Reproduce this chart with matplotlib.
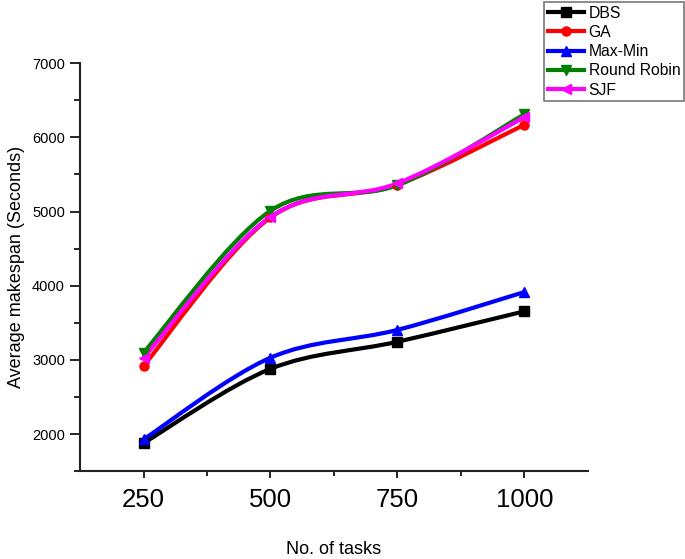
import numpy as np
import matplotlib.pyplot as plt
from matplotlib.path import Path
from matplotlib.patches import PathPatch
from matplotlib.lines import Line2D

plt.rcParams['font.family'] = ['Liberation Sans', 'DejaVu Sans']

# data
tasks = [250, 500, 750, 1000]
dbs = [1880, 2880, 3245, 3655]
ga = [2920, 4920, 5360, 6170]
maxmin = [1930, 3030, 3405, 3915]
round_robin = [3100, 5010, 5355, 6310]
sjf = [3030, 4930, 5380, 6270]

series = [
    ("DBS", dbs, "black", "s"),
    ("GA", ga, "red", "o"),
    ("Max-Min", maxmin, "blue", "^"),
    ("Round Robin", round_robin, "green", "v"),
    ("SJF", sjf, "magenta", "<"),
]


def smooth_path(x, y):
    # catmull-rom as cubic bezier segments (drawn through the data transform)
    x = np.asarray(x, float)
    y = np.asarray(y, float)
    pts = np.column_stack([x, y])
    verts = [pts[0]]
    codes = [Path.MOVETO]
    n = len(pts)
    for i in range(n - 1):
        p0 = pts[i - 1] if i > 0 else pts[i]
        p1 = pts[i]
        p2 = pts[i + 1]
        p3 = pts[i + 2] if i + 2 < n else pts[i + 1]
        c1 = p1 + (p2 - p0) / 6.0
        c2 = p2 - (p3 - p1) / 6.0
        verts += [c1, c2, p2]
        codes += [Path.CURVE4] * 3
    return Path(verts, codes)


fig = plt.figure(figsize=(6.85, 5.59), dpi=100)
ax = fig.add_axes([0.117, 0.157, 0.741, 0.730])

handles = []
for name, vals, col, mk in series:
    ax.add_patch(PathPatch(smooth_path(tasks, vals), facecolor='none',
                           edgecolor=col, linewidth=3, zorder=2))
    ax.plot(tasks, vals, linestyle='none', marker=mk, color=col,
            markersize=6.5, zorder=3)
    handles.append(Line2D([], [], color=col, linewidth=3, marker=mk,
                          markersize=6.5, label=name))

ax.set_xlim(125, 1125)
ax.set_ylim(1500, 7000)
ax.set_xticks(tasks)
ax.set_xticks([375, 625, 875], minor=True)
ax.set_yticks([2000, 3000, 4000, 5000, 6000, 7000])
ax.set_yticks([1500, 2500, 3500, 4500, 5500, 6500], minor=True)

for sp in ['top', 'right']:
    ax.spines[sp].set_visible(False)
for sp in ['left', 'bottom']:
    ax.spines[sp].set_linewidth(1.5)
    ax.spines[sp].set_color('#222222')

ax.tick_params(axis='y', which='major', labelsize=10.5, length=7, width=1.2, pad=4)
ax.tick_params(axis='y', which='minor', length=4.5, width=1.2)
ax.tick_params(axis='x', which='major', labelsize=18.5, length=5, width=1.2, pad=7)
ax.tick_params(axis='x', which='minor', length=3.5, width=1.2)

ax.set_xlabel("No. of tasks", fontsize=13, labelpad=21)
ax.set_ylabel("Average makespan (Seconds)", fontsize=13, labelpad=5)

leg = fig.legend(handles=handles, loc='upper right', bbox_to_anchor=(0.999, 0.997),
                 fontsize=11.3, frameon=True, fancybox=False, edgecolor='#555555',
                 handlelength=2.3, borderpad=0.25, labelspacing=0.27,
                 handletextpad=0.3, borderaxespad=0)
leg.get_frame().set_linewidth(1.2)

fig.savefig("out.png", dpi=100)
